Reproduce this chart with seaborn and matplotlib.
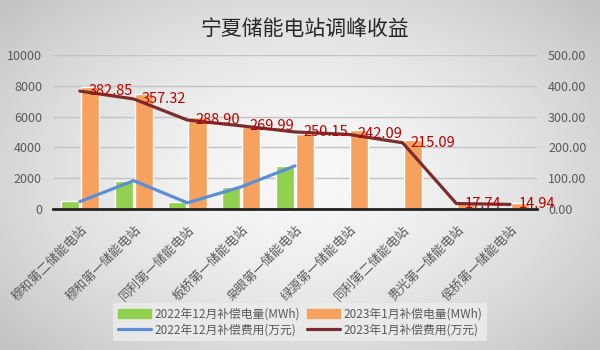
import numpy as np
import pandas as pd
import matplotlib
matplotlib.use("Agg")
import matplotlib.pyplot as plt
from matplotlib.patches import Patch
from matplotlib.lines import Line2D
from matplotlib.transforms import ScaledTranslation
import seaborn as sns

# ---------------- data ----------------
stations = ["穆和第二储能电站", "穆和第一储能电站", "同利第一储能电站", "板桥第一储能电站",
            "枭眼第一储能电站", "绿源第一储能电站", "同利第二储能电站", "贵光第一储能电站",
            "侯桥第一储能电站"]
dec_mwh = [540, 1850, 430, 1400, 2800]            # 2022年12月补偿电量 (first 5 stations)
jan_mwh = [7950, 7450, 6000, 5350, 4900, 5100, 4500, 380, 380]   # 2023年1月补偿电量
dec_cost = [24, 92, 20, 72, 140]                   # 2022年12月补偿费用(万元)
jan_cost = [382.85, 357.32, 288.90, 269.99, 250.15, 242.09, 215.09, 17.74, 14.94]

series_labels = ["2022年12月补偿电量(MWh)", "2023年1月补偿电量(MWh)",
                 "2022年12月补偿费用(万元)", "2023年1月补偿费用(万元)"]
left_ticks = [0, 2000, 4000, 6000, 8000, 10000]
right_ticks = [0, 100, 200, 300, 400, 500]
title = "宁夏储能电站调峰收益"

GREEN = "#92D050"
ORANGE = "#F6A25E"
BLUE = "#5B8ED6"
RED = "#7B2D2D"
LABEL_RED = "#B80000"
TXT = "#595959"

sns.set_theme(style="white")
plt.rcParams["font.family"] = ["Noto Sans CJK SC", "DejaVu Sans"]

bars = pd.DataFrame({
    "station": stations[:len(dec_mwh)] + stations,
    "series": [series_labels[0]] * len(dec_mwh) + [series_labels[1]] * len(jan_mwh),
    "value": dec_mwh + jan_mwh,
})
lines_dec = pd.DataFrame({"pos": np.arange(len(dec_cost)), "cost": dec_cost})
lines_jan = pd.DataFrame({"pos": np.arange(len(jan_cost)), "cost": jan_cost})

fig = plt.figure(figsize=(6, 3.5), dpi=100)

# background gradient
bg = fig.add_axes([0, 0, 1, 1], zorder=-10)
yy, xx = np.mgrid[-1:1:200j, -1:1:300j]
r = np.sqrt((xx * 1.0) ** 2 + (yy * 0.9) ** 2)
img = 0.97 - 0.20 * np.clip(r / 1.3, 0, 1) ** 1.6
bg.imshow(img, cmap="gray", vmin=0, vmax=1, aspect="auto", extent=[0, 1, 0, 1])
bg.axis("off")

ax = fig.add_axes([53 / 600, 1 - 209 / 350, (537 - 53) / 600, (209 - 55) / 350])
ax.patch.set_alpha(0)

sns.barplot(data=bars, x="station", y="value", hue="series",
            order=stations, hue_order=series_labels[:2],
            palette=[GREEN, ORANGE], width=0.75, gap=0.1,
            ax=ax, legend=False, errorbar=None, saturation=1)
ax.set_ylim(0, 10000)
ax.set_xlim(-0.5, len(stations) - 0.5)
ax.set_yticks(left_ticks)
ax.set_yticklabels([str(t) for t in left_ticks])
ax.yaxis.grid(True, color="#c4c4c4", linewidth=1)
ax.set_axisbelow(True)
ax.set_xlabel("")
ax.set_ylabel("")
for s in ["top", "right", "left"]:
    ax.spines[s].set_visible(False)
ax.spines["bottom"].set_color("#222222")
ax.spines["bottom"].set_linewidth(2)
ax.tick_params(axis="y", length=0, pad=8, labelsize=9, labelcolor=TXT)
ax.tick_params(axis="x", length=0, pad=14, labelsize=9, labelcolor=TXT)
ax.set_xticks(range(len(stations)))
ax.set_xticklabels(stations, rotation=45, ha="right", va="center",
                   rotation_mode="anchor")
shift = ScaledTranslation(5 / 100, 0, fig.dpi_scale_trans)
for lab in ax.get_xticklabels():
    lab.set_transform(lab.get_transform() + shift)

ax2 = ax.twinx()
sns.lineplot(data=lines_dec, x="pos", y="cost", ax=ax2, color=BLUE, linewidth=2.3)
sns.lineplot(data=lines_jan, x="pos", y="cost", ax=ax2, color=RED, linewidth=2.3)
ax2.set_ylim(0, 500)
ax2.set_xlim(-0.5, len(stations) - 0.5)
ax2.set_yticks(right_ticks)
ax2.set_yticklabels([f"{t:.2f}" for t in right_ticks])
ax2.tick_params(axis="y", length=0, pad=8, labelsize=9, labelcolor=TXT)
ax2.set_xlabel("")
ax2.set_ylabel("")
for s in ["top", "right", "left", "bottom"]:
    ax2.spines[s].set_visible(False)
ax2.grid(False)

for i, v in enumerate(jan_cost):
    ax2.annotate(f"{v:.2f}", (i, v), xytext=(6, 0), textcoords="offset points",
                 ha="left", va="center", color=LABEL_RED, fontsize=10.5,
                 fontweight="medium")

fig.text(305 / 600, 1 - 29 / 350, title, ha="center", va="center",
         fontsize=15, color="#262626")

handles = [Patch(color=GREEN), Line2D([], [], color=BLUE, lw=2.3),
           Patch(color=ORANGE), Line2D([], [], color=RED, lw=2.3)]
labels = [series_labels[0], series_labels[2], series_labels[1], series_labels[3]]
leg = fig.legend(handles, labels, ncol=2, loc="center",
                 bbox_to_anchor=(300 / 600, 1 - 322 / 350), frameon=True,
                 fontsize=8.5, handlelength=2.8, handletextpad=0.3,
                 columnspacing=0.6, labelspacing=0.25, borderpad=0.4)
leg.get_frame().set_facecolor("#ebebeb")
leg.get_frame().set_edgecolor("none")
leg.get_frame().set_alpha(0.9)
for t in leg.get_texts():
    t.set_color(TXT)

fig.savefig("out.png", dpi=100)
